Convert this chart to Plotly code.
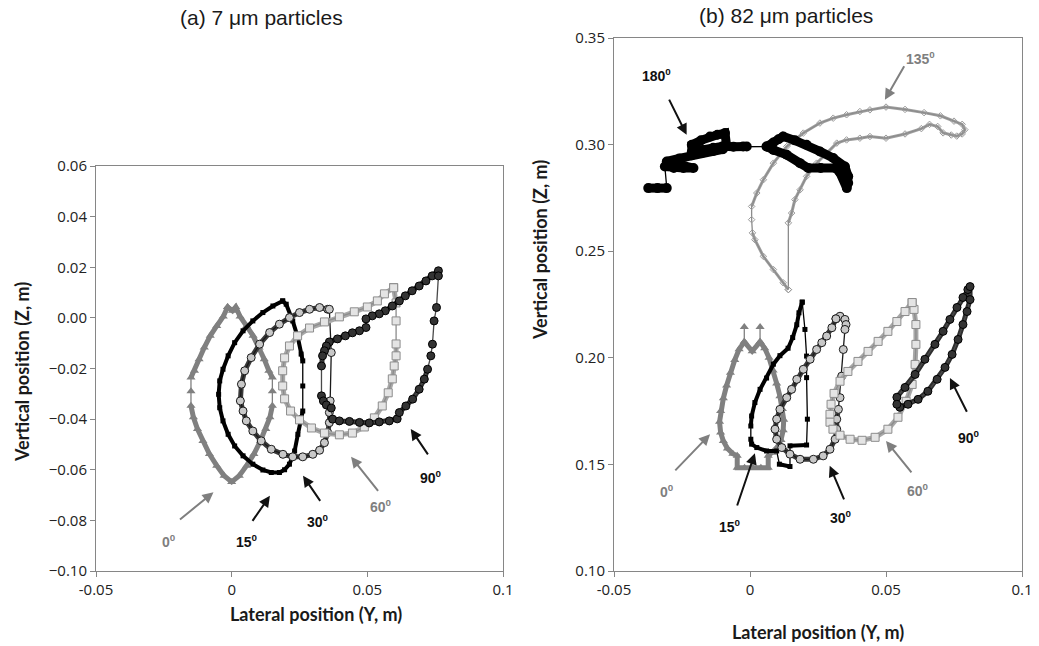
import plotly.graph_objects as go

# ---------------- Panel (a): 7 um particles, (Y, Z) pairs ----------------
A_0 = [(-0.0015, 0.0043), (-0.0031, 0.0005), (-0.0055, -0.0032), (-0.0079, -0.0071), (-0.0101, -0.0117),
       (-0.0120, -0.0163), (-0.0137, -0.0209), (-0.0150, -0.0236), (-0.0150, -0.0290), (-0.0150, -0.0347),
       (-0.0141, -0.0393), (-0.0126, -0.0439), (-0.0106, -0.0486), (-0.0082, -0.0538), (-0.0055, -0.0584),
       (-0.0028, -0.0624), (0.0000, -0.0648), (0.0028, -0.0624), (0.0055, -0.0584), (0.0082, -0.0538),
       (0.0106, -0.0486), (0.0126, -0.0439), (0.0141, -0.0393), (0.0150, -0.0347), (0.0150, -0.0290),
       (0.0150, -0.0236), (0.0137, -0.0209), (0.0120, -0.0163), (0.0101, -0.0117), (0.0079, -0.0071),
       (0.0055, -0.0032), (0.0031, 0.0005), (0.0015, 0.0043), (0.0003, 0.0028), (-0.0015, 0.0043)]

A_15 = [(0.0188, 0.0067), (0.0152, 0.0047), (0.0115, 0.0021), (0.0078, -0.0012), (0.0042, -0.0051),
        (0.0011, -0.0098), (-0.0013, -0.0150), (-0.0032, -0.0203), (-0.0044, -0.0249), (-0.0048, -0.0302),
        (-0.0044, -0.0355), (-0.0032, -0.0407), (-0.0013, -0.0460), (0.0011, -0.0506), (0.0042, -0.0545),
        (0.0078, -0.0578), (0.0115, -0.0601), (0.0146, -0.0611), (0.0176, -0.0611), (0.0195, -0.0600),
        (0.0213, -0.0578), (0.0232, -0.0526), (0.0244, -0.0460), (0.0256, -0.0394), (0.0262, -0.0368),
        (0.0262, -0.0269), (0.0262, -0.0170), (0.0256, -0.0143), (0.0244, -0.0078), (0.0225, -0.0012),
        (0.0201, 0.0054), (0.0188, 0.0067)]

A_30 = [(0.0354, 0.0034), (0.0324, 0.0041), (0.0287, 0.0034), (0.0250, 0.0021), (0.0213, 0.0001),
        (0.0176, -0.0025), (0.0140, -0.0058), (0.0103, -0.0104), (0.0072, -0.0157), (0.0048, -0.0209),
        (0.0036, -0.0262), (0.0032, -0.0328), (0.0042, -0.0368), (0.0054, -0.0407), (0.0078, -0.0447),
        (0.0109, -0.0486), (0.0146, -0.0519), (0.0189, -0.0539), (0.0225, -0.0549), (0.0262, -0.0549),
        (0.0299, -0.0539), (0.0324, -0.0523), (0.0342, -0.0493), (0.0354, -0.0453), (0.0360, -0.0414),
        (0.0360, -0.0374), (0.0363, -0.0328), (0.0367, -0.0137), (0.0360, 0.0034)]

A_60 = [(0.0597, 0.0120), (0.0563, 0.0095), (0.0537, 0.0067), (0.0500, 0.0043), (0.0452, 0.0024),
        (0.0397, 0.0004), (0.0342, -0.0016), (0.0287, -0.0040), (0.0243, -0.0071), (0.0213, -0.0111),
        (0.0195, -0.0158), (0.0188, -0.0209), (0.0188, -0.0269), (0.0195, -0.0320), (0.0217, -0.0368),
        (0.0250, -0.0403), (0.0294, -0.0435), (0.0342, -0.0455), (0.0397, -0.0462), (0.0445, -0.0455),
        (0.0489, -0.0431), (0.0526, -0.0395), (0.0555, -0.0348), (0.0577, -0.0296), (0.0592, -0.0241),
        (0.0599, -0.0190), (0.0606, -0.0150), (0.0606, -0.0103), (0.0606, -0.0012), (0.0606, 0.0059),
        (0.0597, 0.0119)]

A_90 = [(0.0762, 0.0186), (0.0739, 0.0166), (0.0716, 0.0146), (0.0691, 0.0126), (0.0665, 0.0107),
        (0.0640, 0.0087), (0.0618, 0.0067), (0.0592, 0.0047), (0.0566, 0.0028), (0.0544, 0.0016),
        (0.0518, 0.0008), (0.0495, -0.0004), (0.0495, -0.0038), (0.0471, -0.0051), (0.0445, -0.0059),
        (0.0419, -0.0071), (0.0390, -0.0083), (0.0360, -0.0095), (0.0349, -0.0111), (0.0342, -0.0130),
        (0.0335, -0.0150), (0.0331, -0.0190), (0.0331, -0.0308), (0.0338, -0.0328), (0.0349, -0.0344),
        (0.0367, -0.0356), (0.0372, -0.0400), (0.0397, -0.0407), (0.0434, -0.0409), (0.0471, -0.0413),
        (0.0507, -0.0415), (0.0544, -0.0411), (0.0581, -0.0407), (0.0610, -0.0399), (0.0618, -0.0374),
        (0.0642, -0.0348), (0.0667, -0.0321), (0.0691, -0.0282), (0.0710, -0.0242), (0.0722, -0.0203),
        (0.0734, -0.0150), (0.0740, -0.0104), (0.0746, -0.0012), (0.0755, 0.0041), (0.0762, 0.0166)]

# ---------------- Panel (b): 82 um particles, (Y, Z) pairs ----------------
B_0 = [(-0.0021, 0.2145), (-0.0021, 0.2075), (-0.0040, 0.2040), (-0.0056, 0.1990), (-0.0072, 0.1930),
       (-0.0086, 0.1870), (-0.0098, 0.1810), (-0.0108, 0.1750), (-0.0112, 0.1700), (-0.0108, 0.1650),
       (-0.0098, 0.1610), (-0.0083, 0.1575), (-0.0063, 0.1550), (-0.0047, 0.1540), (-0.0047, 0.1484),
       (-0.0020, 0.1484), (0.0010, 0.1484), (0.0040, 0.1484), (0.0067, 0.1484), (0.0067, 0.1540),
       (0.0082, 0.1555), (0.0100, 0.1580), (0.0114, 0.1615), (0.0122, 0.1660), (0.0124, 0.1710),
       (0.0119, 0.1760), (0.0110, 0.1820), (0.0098, 0.1880), (0.0085, 0.1940), (0.0070, 0.2000),
       (0.0054, 0.2045), (0.0037, 0.2075), (0.0037, 0.2145), (0.0037, 0.2075), (0.0008, 0.2031),
       (-0.0021, 0.2075)]

B_15 = [(0.0192, 0.2261), (0.0180, 0.2211), (0.0172, 0.2155), (0.0157, 0.2095), (0.0140, 0.2045),
        (0.0110, 0.2010), (0.0086, 0.1970), (0.0061, 0.1905), (0.0037, 0.1852), (0.0018, 0.1790),
        (0.0006, 0.1727), (0.0003, 0.1680), (0.0003, 0.1618), (0.0006, 0.1595), (0.0025, 0.1579),
        (0.0061, 0.1563), (0.0098, 0.1563), (0.0108, 0.1501), (0.0147, 0.1490), (0.0147, 0.1587),
        (0.0208, 0.1591), (0.0211, 0.1712), (0.0208, 0.1907), (0.0208, 0.2008), (0.0202, 0.2133),
        (0.0192, 0.2261)]

B_30 = [(0.0316, 0.2183), (0.0331, 0.2195), (0.0349, 0.2180), (0.0353, 0.2156), (0.0349, 0.2133),
        (0.0343, 0.2039), (0.0337, 0.1914), (0.0331, 0.1813), (0.0325, 0.1758), (0.0319, 0.1712),
        (0.0319, 0.1665), (0.0313, 0.1618), (0.0294, 0.1571), (0.0269, 0.1540), (0.0233, 0.1524),
        (0.0184, 0.1524), (0.0147, 0.1548), (0.0117, 0.1579), (0.0098, 0.1618), (0.0092, 0.1665),
        (0.0098, 0.1712), (0.0110, 0.1758), (0.0135, 0.1813), (0.0153, 0.1852), (0.0172, 0.1899),
        (0.0196, 0.1946), (0.0221, 0.1993), (0.0245, 0.2039), (0.0264, 0.2071), (0.0282, 0.2102),
        (0.0301, 0.2141), (0.0316, 0.2183)]

B_60 = [(0.0596, 0.2259), (0.0570, 0.2217), (0.0540, 0.2170), (0.0507, 0.2124), (0.0471, 0.2077),
        (0.0434, 0.2030), (0.0397, 0.1983), (0.0360, 0.1936), (0.0331, 0.1890), (0.0309, 0.1833),
        (0.0298, 0.1782), (0.0294, 0.1735), (0.0294, 0.1698), (0.0305, 0.1665), (0.0331, 0.1637),
        (0.0368, 0.1618), (0.0412, 0.1613), (0.0460, 0.1627), (0.0507, 0.1665), (0.0544, 0.1721),
        (0.0574, 0.1796), (0.0596, 0.1875), (0.0607, 0.1969), (0.0610, 0.2063), (0.0610, 0.2156),
        (0.0603, 0.2227), (0.0596, 0.2259)]

B_90 = [(0.0540, 0.1815), (0.0570, 0.1861), (0.0607, 0.1922), (0.0643, 0.1993), (0.0680, 0.2063),
        (0.0710, 0.2124), (0.0735, 0.2180), (0.0761, 0.2236), (0.0783, 0.2283), (0.0801, 0.2320),
        (0.0809, 0.2334), (0.0809, 0.2273), (0.0798, 0.2217), (0.0783, 0.2156), (0.0765, 0.2086),
        (0.0743, 0.2016), (0.0717, 0.1955), (0.0688, 0.1899), (0.0654, 0.1843), (0.0618, 0.1805),
        (0.0581, 0.1782), (0.0551, 0.1768), (0.0540, 0.1782)]

B_135 = [(0.0141, 0.2320), (0.0122, 0.2352), (0.0086, 0.2414), (0.0049, 0.2476), (0.0018, 0.2554),
         (0.0009, 0.2586), (0.0006, 0.2648), (0.0006, 0.2710), (0.0025, 0.2773), (0.0049, 0.2835),
         (0.0086, 0.2913), (0.0135, 0.2991), (0.0196, 0.3054), (0.0257, 0.3101), (0.0306, 0.3124),
         (0.0355, 0.3140), (0.0404, 0.3155), (0.0441, 0.3163), (0.0500, 0.3176), (0.0570, 0.3165),
         (0.0640, 0.3150), (0.0700, 0.3135), (0.0750, 0.3110), (0.0780, 0.3095), (0.0790, 0.3070),
         (0.0780, 0.3050), (0.0760, 0.3040), (0.0740, 0.3045), (0.0710, 0.3055), (0.0690, 0.3085),
         (0.0660, 0.3095), (0.0630, 0.3075), (0.0570, 0.3050), (0.0500, 0.3030), (0.0441, 0.3038),
         (0.0404, 0.3030), (0.0355, 0.3022), (0.0319, 0.3007), (0.0282, 0.2960), (0.0245, 0.2913),
         (0.0208, 0.2851), (0.0184, 0.2788), (0.0165, 0.2742), (0.0153, 0.2679), (0.0141, 0.2633),
         (0.0141, 0.2320)]

B_180 = [(-0.0374, 0.2796), (-0.0340, 0.2796), (-0.0306, 0.2796), (-0.0313, 0.2897), (-0.0280, 0.2890),
         (-0.0245, 0.2890), (-0.0208, 0.2890), (-0.0260, 0.2905), (-0.0306, 0.2921), (-0.0260, 0.2935),
         (-0.0214, 0.2950), (-0.0175, 0.2962), (-0.0135, 0.2970), (-0.0100, 0.2978), (-0.0086, 0.2995),
         (-0.0092, 0.3054), (-0.0120, 0.3046), (-0.0147, 0.3038), (-0.0180, 0.3020), (-0.0214, 0.2999),
         (-0.0214, 0.2965), (-0.0175, 0.2975), (-0.0135, 0.2985), (-0.0100, 0.2992), (-0.0061, 0.2990),
         (-0.0025, 0.2991), (-0.0012, 0.2991), (0.0061, 0.2991), (0.0086, 0.3010), (0.0105, 0.3025),
         (0.0122, 0.3038), (0.0165, 0.3020), (0.0208, 0.2999), (0.0257, 0.2968), (0.0306, 0.2937),
         (0.0349, 0.2897), (0.0361, 0.2851), (0.0361, 0.2820), (0.0356, 0.2796), (0.0330, 0.2870),
         (0.0313, 0.2890), (0.0260, 0.2890), (0.0214, 0.2890), (0.0184, 0.2913), (0.0135, 0.2952),
         (0.0086, 0.2975), (0.0061, 0.2991)]

# Angle labels: (text, label Y, label Z, arrow tail Y, tail Z, head Y, head Z, colour)
A_LABELS = [("0", -0.0232, -0.0880, -0.0196, -0.0801, -0.0067, -0.0689, "#7f7f7f"),
            ("15", 0.0055, -0.0880, 0.0073, -0.0808, 0.0141, -0.0703, "#111111"),
            ("30", 0.0318, -0.0801, 0.0330, -0.0729, 0.0263, -0.0624, "#111111"),
            ("60", 0.0550, -0.0742, 0.0544, -0.0689, 0.0440, -0.0549, "#7f7f7f"),
            ("90", 0.0733, -0.0630, 0.0727, -0.0545, 0.0660, -0.0439, "#111111")]
B_LABELS = [("0", -0.0306, 0.1375, -0.0280, 0.1465, -0.0147, 0.1641, "#7f7f7f"),
            ("15", -0.0073, 0.1213, -0.0049, 0.1300, 0.0018, 0.1552, "#111111"),
            ("30", 0.0335, 0.1252, 0.0348, 0.1329, 0.0293, 0.1494, "#111111"),
            ("60", 0.0616, 0.1378, 0.0598, 0.1455, 0.0500, 0.1610, "#7f7f7f"),
            ("90", 0.0805, 0.1630, 0.0800, 0.1740, 0.0735, 0.1905, "#111111"),
            ("135", 0.0625, 0.3406, 0.0570, 0.3374, 0.0496, 0.3210, "#7f7f7f"),
            ("180", -0.0343, 0.3327, -0.0300, 0.3218, -0.0233, 0.3046, "#111111")]

X_TICKS = [-0.05, 0, 0.05, 0.1]
X_TICKTEXT = ["-0.05", "0", "0.05", "0.1"]

W, H = 1039, 646
fig = go.Figure()

# style per angle: (band colour, band width, thin line colour, marker)
STY = {
    "0": ("#808080", 5, "#808080", dict(symbol="triangle-up", size=8, color="#808080")),
    "15": ("#000000", 4, "#000000", dict(symbol="square", size=5, color="#000000")),
    "30": ("#3a3a3a", 5, "#1a1a1a", dict(symbol="circle", size=8, color="#c8c8c8",
                                          line=dict(color="#1a1a1a", width=1))),
    "60": ("#a8a8a8", 5, "#8c8c8c", dict(symbol="square", size=8, color="#e4e4e4",
                                          line=dict(color="#8c8c8c", width=1))),
    "90": ("#2e2e2e", 5, "#4a4a4a", dict(symbol="circle", size=8, color="#333333",
                                          line=dict(color="#000000", width=1))),
    "135": ("#a0a0a0", 3, "#8c8c8c", dict(symbol="diamond-open", size=5, color="#9a9a9a")),
    "180": ("#000000", 9, "#000000", dict(symbol="circle", size=10, color="#000000")),
}
# segments (index i -> i+1) drawn only as a thin line (sparse jumps)
THIN = {
    "A_0": {7, 8, 23, 24}, "A_15": {24, 25}, "A_30": {26, 27}, "A_60": {27, 28},
    "A_90": {11, 21, 25, 39, 40, 41, 42, 43},
    "B_0": {0, 31, 32}, "B_15": {11, 16, 18, 20, 21, 22, 23, 24}, "B_30": {4, 5, 6, 7},
    "B_60": set(), "B_90": set(), "B_135": {5, 6, 44}, "B_180": {2, 26},
}


def add(name, pairs, key, xa, ya):
    band_col, band_w, thin_col, mk = STY[key]
    ys = [p[0] for p in pairs]
    zs = [p[1] for p in pairs]
    by, bz = [], []
    for i in range(len(pairs)):
        by.append(ys[i])
        bz.append(zs[i])
        if i in THIN[name]:
            by.append(None)
            bz.append(None)
    fig.add_trace(go.Scatter(x=by, y=bz, xaxis=xa, yaxis=ya, mode="lines", connectgaps=False,
                             line=dict(color=band_col, width=band_w), showlegend=False,
                             hoverinfo="skip"))
    fig.add_trace(go.Scatter(x=ys, y=zs, xaxis=xa, yaxis=ya, mode="lines+markers",
                             line=dict(color=thin_col, width=1.3), marker=mk,
                             showlegend=False, hoverinfo="skip"))


for name, pairs, key in [("A_0", A_0, "0"), ("A_15", A_15, "15"), ("A_30", A_30, "30"),
                         ("A_60", A_60, "60"), ("A_90", A_90, "90")]:
    add(name, pairs, key, "x", "y")
for name, pairs, key in [("B_135", B_135, "135"), ("B_180", B_180, "180"), ("B_0", B_0, "0"),
                         ("B_15", B_15, "15"), ("B_30", B_30, "30"), ("B_60", B_60, "60"),
                         ("B_90", B_90, "90")]:
    add(name, pairs, key, "x2", "y2")

ann = []
for labels, xr, yr in [(A_LABELS, "x", "y"), (B_LABELS, "x2", "y2")]:
    for txt, lx, lz, tx, tz, hx, hz, col in labels:
        ann.append(dict(x=hx, y=hz, ax=tx, ay=tz, xref=xr, yref=yr, axref=xr, ayref=yr,
                        text="", showarrow=True, arrowhead=2, arrowsize=1.1, arrowwidth=2,
                        arrowcolor=col))
        ann.append(dict(x=lx, y=lz, xref=xr, yref=yr, showarrow=False, xanchor="center",
                        yanchor="middle", text="<b>%s<sup>0</sup></b>" % txt,
                        font=dict(family="Liberation Sans, Arial", size=14, color=col)))


def px(xp):
    return xp / W


def py(yp):
    return 1 - yp / H


title_font = dict(family="Liberation Sans, Arial", size=21, color="#1a1a1a")
axis_font = dict(family="Lato, Open Sans", size=18, color="#1a1a1a")
base = dict(xref="paper", yref="paper", showarrow=False, xanchor="center", yanchor="middle")
ann += [
    dict(x=px(261), y=py(18), text="(a) 7 \u03bcm particles", font=title_font, **base),
    dict(x=px(786), y=py(15), text="(b) 82 \u03bcm particles", font=title_font, **base),
    dict(x=px(316), y=py(614), text="<b>Lateral position (Y, m)</b>", font=axis_font, **base),
    dict(x=px(818), y=py(632), text="<b>Lateral position (Y, m)</b>", font=axis_font, **base),
    dict(x=px(22), y=py(372), textangle=-90, text="<b>Vertical position (Z, m)</b>",
         font=axis_font, **base),
    dict(x=px(540), y=py(250), textangle=-90, text="<b>Vertical position (Z, m)</b>",
         font=axis_font, **base),
]

tick_font = dict(family="Open Sans", size=15, color="#222222")
common = dict(showline=True, linecolor="#868686", linewidth=1, mirror=True, ticks="outside",
              ticklen=5, tickcolor="#868686", showgrid=False, zeroline=False,
              tickfont=tick_font, automargin=False)

fig.update_layout(
    width=W, height=H, margin=dict(l=0, r=0, t=0, b=0),
    paper_bgcolor="white", plot_bgcolor="white",
    xaxis=dict(domain=[px(96), px(503)], range=[-0.05, 0.1], tickvals=X_TICKS,
               ticktext=X_TICKTEXT, anchor="y", **common),
    yaxis=dict(domain=[py(571), py(166)], range=[-0.10, 0.06], dtick=0.02, tick0=0,
               tickformat=".2f", anchor="x", **common),
    xaxis2=dict(domain=[px(614), px(1022)], range=[-0.05, 0.1], tickvals=X_TICKS,
                ticktext=X_TICKTEXT, anchor="y2", **common),
    yaxis2=dict(domain=[py(571), py(38)], range=[0.10, 0.35], dtick=0.05, tick0=0.1,
                tickformat=".2f", anchor="x2", **common),
    annotations=ann,
)

fig.write_html("out.html", config={"displayModeBar": False, "staticPlot": True},
               post_script="document.body.style.margin='0';document.body.style.overflow='hidden';")
